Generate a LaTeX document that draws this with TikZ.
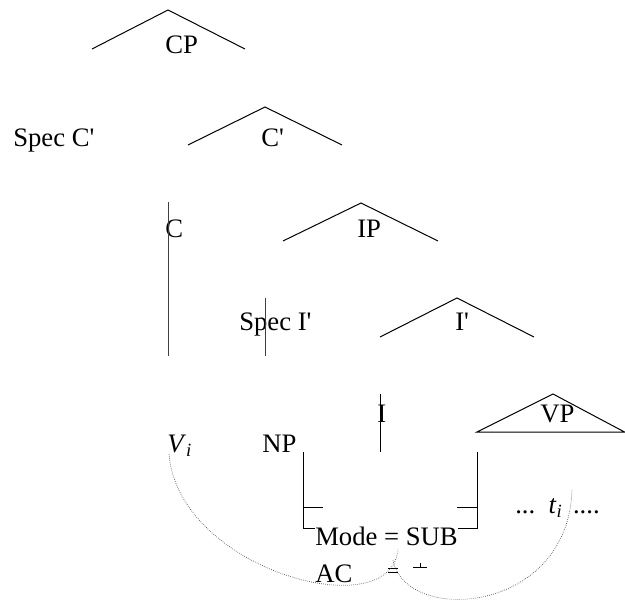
\documentclass[tikz,border=0pt]{standalone}
\usepackage{fontspec}
\setmainfont{Liberation Serif}
\usepackage{tikz}
\usetikzlibrary{positioning}

\begin{document}
\begin{tikzpicture}[x=0.75pt, y=-0.75pt,
    lbl/.style={inner sep=0pt, anchor=base west, font=\fontsize{20}{24}\selectfont},
    branch/.style={line width=0.75pt},
    trace/.style={densely dotted, line width=0.5pt, black!75}]
            \useasboundingbox (0,0) rectangle (625,602);
            \clip (0,0) rectangle (625,602);

            \node[lbl] (cp) at (165,54) {CP};
            \node[lbl] (specc) at (13,147) {Spec C\textquotesingle};
            \node[lbl] (cbar) at (261,147) {C\textquotesingle};
            \node[lbl] (c) at (165,238) {C};
            \node[lbl] (ip) at (357,238) {IP};
            \node[lbl] (speci) at (239,330) {Spec I\textquotesingle};
            \node[lbl] (ibar) at (455,330) {I\textquotesingle};
            \node[lbl] (i) at (377,422) {I};
            \node[lbl] (vp) at (540,422) {VP};
            \node[lbl] (vi) at (167,452) {\textit{V}\textsubscript{\textit{i}}};
            \node[lbl] (np) at (262,452) {NP};
            \node[lbl] (ti) at (515,513) {...\hspace{10pt}\textit{t}\textsubscript{\textit{i}}\hspace{8pt}....};
            \node[lbl] (mode) at (315,545) {Mode = SUB};
            \node[lbl] (agr) at (315,582) {AC};

            % branches
            \draw[branch] (92,49) -- (168,10) -- (245,49);
            \draw[branch] (188,145) -- (265,107) -- (342,145);
            \draw[branch] (283,241) -- (361,203) -- (438,241);
            \draw[branch] (380,337) -- (457,298) -- (534,337);
            \draw[branch] (477,432) -- (553,394) -- (624.5,432) -- cycle;
            \draw[branch, black!75] (168,202) -- (168,356);
            \draw[branch, black!75] (265,298) -- (265,356);
            \draw[branch] (380,394) -- (380,452);

            % brackets
            \draw[branch] (303,452) -- (303,528) -- (315,528);
            \draw[branch] (303,507) -- (323,507);
            \draw[branch] (477,452) -- (477,528) -- (458,528);
            \draw[branch] (457,507) -- (477,507);
            \draw[line width=0.6pt] (388,568) -- (398,568) (388,572) -- (398,572);
            \draw[line width=0.6pt] (413,567) -- (427,567) (420,563) -- (420,567);

            % traces
            \coordinate (vstart) at (169,454);
            \coordinate (vend) at (398,549);
            \coordinate (tstart) at (393,560);
            \coordinate (tend) at (572,490);
            \draw[trace] (vstart) .. controls (178,570) and (392,628) .. (vend);
            \draw[trace] (tstart) .. controls (405,625) and (568,615) .. (tend);
        \end{tikzpicture}
\end{document}
